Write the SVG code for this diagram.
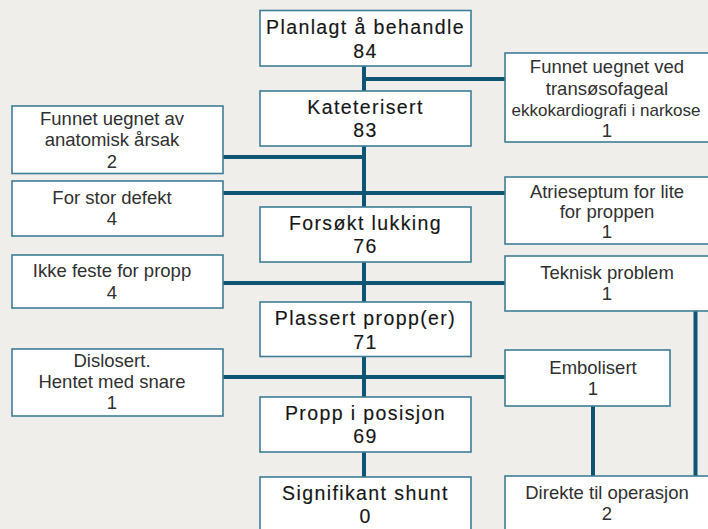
<svg xmlns="http://www.w3.org/2000/svg" width="708" height="529" viewBox="0 0 708 529">
<style>
.bg{fill:#efeeeb}
.box{fill:#ffffff;stroke:#3f7d97;stroke-width:1.6}
.ln{stroke:#0d5573;stroke-width:4;fill:none}
.c{font-family:"Liberation Sans",Arial,sans-serif;font-size:19.5px;letter-spacing:1.4px;fill:#161616;stroke:#161616;stroke-width:0.15;text-anchor:middle}
.s{font-family:"Liberation Sans",Arial,sans-serif;font-size:18.5px;fill:#303030;text-anchor:middle}
</style>
<rect class="bg" x="0" y="0" width="708" height="529"/>
<g id="connectors">
<line class="ln" x1="364" y1="66" x2="364" y2="477"/>
<line class="ln" x1="364" y1="79" x2="505" y2="79"/>
<line class="ln" x1="223" y1="157" x2="364" y2="157"/>
<line class="ln" x1="223" y1="193" x2="505" y2="193"/>
<line class="ln" x1="223" y1="283" x2="505" y2="283"/>
<line class="ln" x1="223" y1="377" x2="505" y2="377"/>
<line class="ln" x1="593" y1="406" x2="593" y2="476"/>
<line class="ln" x1="695.5" y1="311" x2="695.5" y2="476"/>
</g>
<g id="n-planlagt">
<rect class="box" x="260" y="10.5" width="211" height="55.5"/>
<text class="c" x="365.5" y="34">Planlagt å behandle</text>
<text class="c" x="365.5" y="58">84</text>
</g>
<g id="n-kateterisert">
<rect class="box" x="260" y="91" width="211" height="55"/>
<text class="c" x="365.5" y="113.5">Kateterisert</text>
<text class="c" x="365.5" y="137">83</text>
</g>
<g id="n-forsokt">
<rect class="box" x="260" y="207" width="211" height="55"/>
<text class="c" x="365.5" y="230">Forsøkt lukking</text>
<text class="c" x="365.5" y="253">76</text>
</g>
<g id="n-plassert">
<rect class="box" x="260" y="302" width="211" height="54.5"/>
<text class="c" x="365.5" y="325">Plassert propp(er)</text>
<text class="c" x="365.5" y="349">71</text>
</g>
<g id="n-posisjon">
<rect class="box" x="260" y="397" width="211" height="55"/>
<text class="c" x="365.5" y="420">Propp i posisjon</text>
<text class="c" x="365.5" y="443">69</text>
</g>
<g id="n-shunt">
<rect class="box" x="260" y="477" width="211" height="62"/>
<text class="c" x="365.5" y="500">Signifikant shunt</text>
<text class="c" x="365.5" y="523">0</text>
</g>
<g id="n-anatomisk">
<rect class="box" x="12" y="106" width="211" height="67.5"/>
<text class="s" x="112" y="125">Funnet uegnet av</text>
<text class="s" x="112" y="146">anatomisk årsak</text>
<text class="s" x="112" y="168">2</text>
</g>
<g id="n-storDefekt">
<rect class="box" x="12" y="181" width="211" height="55"/>
<text class="s" x="112" y="204">For stor defekt</text>
<text class="s" x="112" y="225">4</text>
</g>
<g id="n-ikkeFeste">
<rect class="box" x="12" y="255" width="211" height="53"/>
<text class="s" x="112" y="277">Ikke feste for propp</text>
<text class="s" x="112" y="299">4</text>
</g>
<g id="n-dislosert">
<rect class="box" x="12" y="349" width="211" height="67"/>
<text class="s" x="112" y="367">Dislosert.</text>
<text class="s" x="112" y="388">Hentet med snare</text>
<text class="s" x="112" y="409">1</text>
</g>
<g id="n-transosofageal">
<rect class="box" x="505" y="53" width="206" height="89"/>
<text class="s" x="607" y="73">Funnet uegnet ved</text>
<text class="s" x="607" y="95">transøsofageal</text>
<text class="s" x="606" y="116" style="font-size:17px">ekkokardiografi i narkose</text>
<text class="s" x="607" y="137">1</text>
</g>
<g id="n-atrieseptum">
<rect class="box" x="505" y="177" width="206" height="67"/>
<text class="s" x="607" y="198">Atrieseptum for lite</text>
<text class="s" x="607" y="218">for proppen</text>
<text class="s" x="607" y="238">1</text>
</g>
<g id="n-teknisk">
<rect class="box" x="505" y="256" width="206" height="55"/>
<text class="s" x="607" y="279">Teknisk problem</text>
<text class="s" x="607" y="300">1</text>
</g>
<g id="n-embolisert">
<rect class="box" x="505" y="350" width="165" height="56"/>
<text class="s" x="593" y="374">Embolisert</text>
<text class="s" x="593" y="395">1</text>
</g>
<g id="n-direkte">
<rect class="box" x="505" y="476" width="206" height="62"/>
<text class="s" x="607" y="499">Direkte til operasjon</text>
<text class="s" x="607" y="520">2</text>
</g>
</svg>
